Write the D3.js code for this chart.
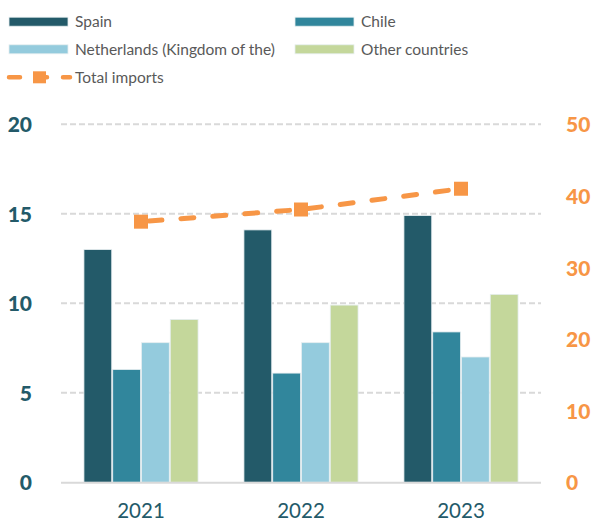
<!DOCTYPE html>
<html><head><meta charset="utf-8">
<script src="https://cdn.jsdelivr.net/npm/d3@7"></script>
<style>body{margin:0;background:#fff}svg{display:block}</style>
</head><body>
<svg id="c" width="595" height="521"></svg>
<script>
const years = ["2021","2022","2023"];
const seriesNames = ["Spain","Chile","Netherlands (Kingdom of the)","Other countries"];
const spain = [13.0, 14.1, 14.9];
const chile = [6.3, 6.1, 8.4];
const netherlands = [7.8, 7.8, 7.0];
const others = [9.1, 9.9, 10.5];
const totalImports = [36.4, 38.1, 41.0];
const leftTicks = [0,5,10,15,20];
const rightTicks = [0,10,20,30,40,50];
const colors = ["#235a69","#31869c","#94cbdd","#c4d79b"];
const orange = "#f79646";
const seriesValues = [spain, chile, netherlands, others];

const svg = d3.select("#c");
const L = 61, R = 541, T = 124.3, B = 482.3;
const x0 = d3.scaleBand().domain(years).range([L,R]).padding(0);
const x1 = d3.scaleBand().domain(seriesNames).range([0,x0.bandwidth()]).paddingOuter(0.78).paddingInner(0);
const y = d3.scaleLinear().domain([0,20]).range([B,T]);
const y2 = d3.scaleLinear().domain([0,50]).range([B,T]);
const font = "Lato, 'Open Sans', sans-serif";

// gridlines
svg.append("g").selectAll("line").data(leftTicks.filter(d=>d>0)).join("line")
  .attr("x1",L).attr("x2",R).attr("y1",d=>y(d)).attr("y2",d=>y(d))
  .attr("stroke","#d9d9d9").attr("stroke-width",2).attr("stroke-dasharray","6 3");

// bars
const g = svg.append("g");
years.forEach((yr,i)=>{
  seriesNames.forEach((s,j)=>{
    const v = seriesValues[j][i];
    g.append("rect")
      .attr("x", x0(yr)+x1(s)+0.5)
      .attr("y", y(v))
      .attr("width", x1.bandwidth()-1)
      .attr("height", y(0)-y(v))
      .attr("fill", colors[j])
      .attr("stroke", "#e6eef0").attr("stroke-width", 0.8);
  });
});

// baseline
svg.append("line").attr("x1",L).attr("x2",R).attr("y1",y(0)+0.5).attr("y2",y(0)+0.5)
  .attr("stroke","#d9d9d9").attr("stroke-width",2);

// line
const line = d3.line().x((d,i)=>x0(years[i])+x0.bandwidth()/2).y(d=>y2(d));
svg.append("path").datum(totalImports).attr("d",line)
  .attr("fill","none").attr("stroke",orange).attr("stroke-width",5)
  .attr("stroke-linecap","round").attr("stroke-dasharray","13 19")
  .attr("stroke-dashoffset",-8);
svg.append("g").selectAll("rect").data(totalImports).join("rect")
  .attr("x",(d,i)=>x0(years[i])+x0.bandwidth()/2-7).attr("y",d=>y2(d)-7)
  .attr("width",14).attr("height",14).attr("fill",orange);

// left axis
const la = svg.append("g").attr("transform",`translate(32,0)`)
  .call(d3.axisLeft(y).tickValues(leftTicks).tickSize(0).tickPadding(0));
la.select(".domain").remove();
la.selectAll("text").attr("font-family",font).attr("font-size",21).attr("font-weight",900)
  .attr("fill","#235a69").attr("dy","0.36em");

// right axis
const ra = svg.append("g").attr("transform",`translate(566,0)`)
  .call(d3.axisRight(y2).tickValues(rightTicks).tickSize(0).tickPadding(0));
ra.select(".domain").remove();
ra.selectAll("text").attr("font-family",font).attr("font-size",21).attr("font-weight",900)
  .attr("fill",orange).attr("dy","0.36em");

// x axis
const xa = svg.append("g").attr("transform",`translate(0,${B})`)
  .call(d3.axisBottom(x0).tickSize(0).tickPadding(21));
xa.select(".domain").remove();
xa.selectAll("text").attr("font-family",font).attr("font-size",20.5)
  .attr("fill","#235a69");

// legend
const leg = svg.append("g");
const legPos = [[9,21.7],[295,21.7],[9,49.3],[295,49.3]];
seriesNames.forEach((s,j)=>{
  const [lx,ly] = legPos[j];
  leg.append("rect").attr("x",lx).attr("y",ly-4.5).attr("width",59).attr("height",9)
    .attr("fill",colors[j]).attr("stroke","#e6eef0").attr("stroke-width",0.8);
  leg.append("text").attr("x",lx+66).attr("y",ly).attr("dy","0.35em")
    .attr("font-family",font).attr("font-size",15.5).attr("fill","#595959").text(s);
});
leg.append("line").attr("x1",9).attr("x2",70).attr("y1",77.3).attr("y2",77.3)
  .attr("stroke",orange).attr("stroke-width",4.5).attr("stroke-linecap","round")
  .attr("stroke-dasharray","11 16");
leg.append("rect").attr("x",33).attr("y",77.3-6).attr("width",13).attr("height",12).attr("fill",orange);
leg.append("text").attr("x",75).attr("y",77.3).attr("dy","0.35em")
  .attr("font-family",font).attr("font-size",15.5).attr("fill","#595959").text("Total imports");
</script>
</body></html>
